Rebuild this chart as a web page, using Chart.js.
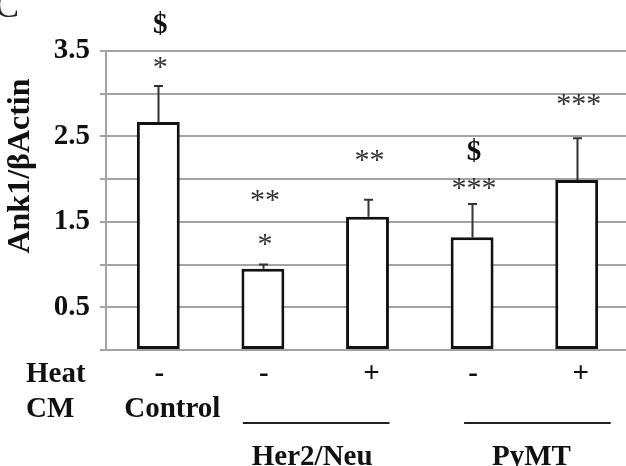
<!DOCTYPE html>
<html>
<head>
<meta charset="utf-8">
<script src="https://cdn.jsdelivr.net/npm/chart.js@4"></script>
<style>
  html, body { margin: 0; padding: 0; background: #fff; overflow: hidden; }
</style>
</head>
<body>
<canvas id="myChart" width="630" height="466"></canvas>
<script>
// data
const categories = ['Control', 'Her2/Neu -', 'Her2/Neu +', 'PyMT -', 'PyMT +'];
const values = [2.67, 0.95, 1.56, 1.32, 1.99];
const errors = [0.42, 0.05, 0.20, 0.39, 0.49];
const heat = ['-', '-', '+', '-', '+'];
const marks = [['*', '$'], ['*', '**'], ['**'], ['***', '$'], ['***']];
const cmGroups = [
  { label: 'Control', first: 0, last: 0 },
  { label: 'Her2/Neu', first: 1, last: 2 },
  { label: 'PyMT', first: 3, last: 4 }
];
const yTicks = [0.5, 1.5, 2.5, 3.5];

const serif = 'Liberation Serif, Times New Roman, serif';

// pixel offsets (baseline above error-bar top) for each mark, same order as marks
const markGap = [[10, 53], [12, 56], [31], [7, 44], [25]];
// group underline / label placement relative to bar centres
const groupLayout = [
  { line: null, labelDx: 14 },
  { line: [-20, 22], labelDx: -4 },
  { line: [-8, 34], labelDx: -6 }
];

const extras = {
  id: 'extras',
  afterDatasetsDraw(chart) {
    const c = chart.ctx;
    const x = chart.scales.x;
    const y = chart.scales.y;
    c.save();

    // error bars (upper only)
    c.strokeStyle = '#333';
    c.lineWidth = 2;
    values.forEach((v, i) => {
      const cx = Math.round(x.getPixelForValue(i)) + 0.5;
      const top = y.getPixelForValue(v + errors[i]);
      c.beginPath();
      c.moveTo(cx, y.getPixelForValue(v));
      c.lineTo(cx, top);
      c.moveTo(cx - 4.5, top);
      c.lineTo(cx + 4.5, top);
      c.stroke();
    });

    // significance marks
    c.textAlign = 'center';
    c.textBaseline = 'alphabetic';
    marks.forEach((list, i) => {
      const cx = x.getPixelForValue(i);
      const top = y.getPixelForValue(values[i] + errors[i]);
      list.forEach((m, k) => {
        if (m === '$') {
          c.font = 'bold 29px ' + serif;
          c.fillStyle = '#111';
        } else {
          c.font = '30px ' + serif;
          c.fillStyle = '#333';
        }
        c.fillText(m, cx + 2, top - markGap[i][k]);
      });
    });

    // Heat row
    c.fillStyle = '#111';
    c.font = 'bold 29px ' + serif;
    c.textAlign = 'left';
    c.fillText('Heat', 26, 382);
    c.fillText('CM', 26, 417);
    c.textAlign = 'center';
    heat.forEach((h, i) => {
      const dx = h === '+' ? 4 : 1;
      c.fillText(h, x.getPixelForValue(i) + dx, 382);
    });

    // CM groups
    cmGroups.forEach((g, j) => {
      const lay = groupLayout[j];
      const a = x.getPixelForValue(g.first);
      const b = x.getPixelForValue(g.last);
      if (lay.line) {
        const x0 = a + lay.line[0];
        const x1 = b + lay.line[1];
        c.strokeStyle = '#222';
        c.lineWidth = 2;
        c.beginPath();
        c.moveTo(x0, 423);
        c.lineTo(x1, 423);
        c.stroke();
        c.fillText(g.label, (x0 + x1) / 2 + lay.labelDx, 465);
      } else {
        c.fillText(g.label, a + lay.labelDx, 417);
      }
    });

    // axis title
    c.save();
    c.translate(21, 166);
    c.rotate(-Math.PI / 2);
    c.font = 'bold 32px ' + serif;
    c.textBaseline = 'middle';
    c.fillText('Ank1/\u03B2Actin', 0, 0);
    c.restore();

    // panel letter, cropped in the original
    c.font = '36px ' + serif;
    c.textAlign = 'left';
    c.fillStyle = '#222';
    c.fillText('C', -5, 17);

    c.restore();
  }
};

const ctx = document.getElementById('myChart');

new Chart(ctx, {
  type: 'bar',
  data: {
    labels: categories,
    datasets: [{
      data: values,
      backgroundColor: '#fff',
      borderColor: '#111',
      borderWidth: 3,
      borderSkipped: false,
      barPercentage: 0.41,
      categoryPercentage: 1
    }]
  },
  options: {
    responsive: false,
    animation: false,
    layout: { padding: { top: 51, bottom: 116, left: 0, right: 1 } },
    plugins: {
      legend: { display: false },
      tooltip: { enabled: false }
    },
    scales: {
      x: { display: false },
      y: {
        min: 0,
        max: 3.5,
        afterFit: s => { s.width = 106; },
        ticks: {
          stepSize: 0.5,
          autoSkip: false,
          padding: 10,
          color: '#111',
          font: { family: serif, size: 29, weight: 'bold' },
          callback: v => yTicks.includes(v) ? v.toFixed(1) : ''
        },
        grid: { color: '#a3a3a3', lineWidth: 2, tickLength: 6 },
        border: { color: '#a3a3a3', width: 2 }
      }
    }
  },
  plugins: [extras]
});
</script>
</body>
</html>
